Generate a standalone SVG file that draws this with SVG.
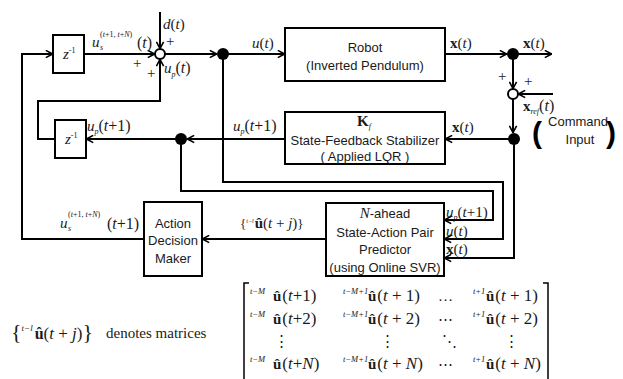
<svg xmlns="http://www.w3.org/2000/svg" width="623" height="379" viewBox="0 0 623 379">
<defs>
<marker id="ah" viewBox="0 0 10 10" refX="9.5" refY="5" markerWidth="9" markerHeight="9" markerUnits="userSpaceOnUse" orient="auto">
<path d="M1.5,1 L9,5 L1.5,9" fill="none" stroke="#000" stroke-width="1.8"/>
</marker>
</defs>
<style>
.bx{fill:#fff;stroke:#000;stroke-width:2}
.ln{fill:none;stroke:#000;stroke-width:1.5}
.ar{fill:none;stroke:#000;stroke-width:2;marker-end:url(#ah)}
.t{font-family:"Liberation Sans",Arial,sans-serif;font-size:13px;text-anchor:middle;fill:#1a1a1a}
.m{font-family:"Liberation Serif","Times New Roman","DejaVu Serif",serif;font-size:15px;fill:#1a1a1a}
.i{font-style:italic}
.b{font-weight:bold}
.s{font-size:8px}
.dot{fill:#000}
.sum{fill:#fff;stroke:#000;stroke-width:2}
</style>
<rect width="623" height="379" fill="#fff"/>

<g id="connectors">
<path class="ar" d="M84,54 H155"/>
<path class="ar" d="M160,12 V49"/>
<path class="ar" d="M55,139 H38 V101 H160 V59"/>
<path class="ar" d="M165,54 H217"/>
<path class="ar" d="M223,54 H285"/>
<path class="ar" d="M445,54 H507"/>
<path class="ar" d="M513,54 H552"/>
<path class="ar" d="M513,54 V89"/>
<path class="ar" d="M553,94 H518"/>
<path class="ar" d="M513,99 V133"/>
<path class="ar" d="M514,139 H445"/>
<path class="ar" d="M285,139 H187"/>
<path class="ar" d="M181,139 H86"/>
<path class="ar" d="M223,54 V182 H503 V239 H444"/>
<path class="ar" d="M181,139 V191 H493 V220 H444"/>
<path class="ar" d="M514,139 V258 H444"/>
<path class="ar" d="M326,239 H202"/>
<path class="ar" d="M144,239 H22 V54 H53"/>
</g>

<g id="sum1"><circle class="sum" cx="160" cy="54" r="5"/></g>
<g id="sum2"><circle class="sum" cx="513" cy="94" r="5"/></g>
<g id="dot1"><circle class="dot" cx="223" cy="54" r="6"/></g>
<g id="dot2"><circle class="dot" cx="513" cy="54" r="6"/></g>
<g id="dot3"><circle class="dot" cx="181" cy="139" r="6"/></g>
<g id="dot4"><circle class="dot" cx="514" cy="139" r="6"/></g>

<g id="delay1">
<rect class="bx" x="53" y="35" width="31" height="38"/>
<text class="m" x="63" y="59"><tspan class="i">z</tspan><tspan class="s" y="53">-1</tspan></text>
</g>
<g id="delay2">
<rect class="bx" x="55" y="120" width="31" height="38"/>
<text class="m" x="65" y="144"><tspan class="i">z</tspan><tspan class="s" y="138">-1</tspan></text>
</g>
<g id="robot">
<rect class="bx" x="285" y="28" width="160" height="53"/>
<text class="t" x="365" y="52">Robot</text>
<text class="t" x="365" y="70">(Inverted Pendulum)</text>
</g>
<g id="stabilizer">
<rect class="bx" x="285" y="112" width="160" height="52"/>
<text class="m" x="357" y="126"><tspan class="b">K</tspan><tspan class="s i" y="129">f</tspan></text>
<text class="t" x="365" y="145">State-Feedback Stabilizer</text>
<text class="t" x="365" y="161">( Applied LQR )</text>
</g>
<g id="predictor">
<rect class="bx" x="326" y="203" width="118" height="73"/>
<text class="t" x="385" y="218"><tspan class="i" style="font-family:'Liberation Serif',serif;font-size:15px">N</tspan>-ahead</text>
<text class="t" x="385" y="237">State-Action Pair</text>
<text class="t" x="385" y="254">Predictor</text>
<text class="t" x="385" y="272">(using Online SVR)</text>
</g>
<g id="action">
<rect class="bx" x="144" y="202" width="58" height="74"/>
<text class="t" x="173" y="228">Action</text>
<text class="t" x="173" y="245">Decision</text>
<text class="t" x="173" y="263">Maker</text>
</g>

<g id="labels">
<text class="m" x="92" y="47"><tspan class="i">u</tspan><tspan class="s" x="100" y="37">(<tspan class="i">t</tspan>+1, <tspan class="i">t</tspan>+<tspan class="i">N</tspan>)</tspan><tspan class="s i" x="100" y="50">s</tspan><tspan x="137" y="48" font-size="16">(<tspan class="i">t</tspan>)</tspan></text>
<text class="m" x="163" y="29" font-size="16"><tspan class="i">d</tspan>(<tspan class="i">t</tspan>)</text>
<text class="m" x="166" y="46">+</text>
<text class="m" x="133" y="68">+</text>
<text class="m" x="147" y="78">+</text>
<text class="m" x="164" y="73"><tspan class="i">u</tspan><tspan class="s i" y="77">p</tspan><tspan y="73" font-size="16">(<tspan class="i">t</tspan>)</tspan></text>
<text class="m" x="252" y="48" font-size="16"><tspan class="i">u</tspan>(<tspan class="i">t</tspan>)</text>
<text class="m" x="450" y="48" font-size="16"><tspan class="b">x</tspan>(<tspan class="i">t</tspan>)</text>
<text class="m" x="523" y="48" font-size="16"><tspan class="b">x</tspan>(<tspan class="i">t</tspan>)</text>
<text class="m" x="498" y="81">+</text>
<text class="m" x="524" y="86">+</text>
<text class="m" x="523" y="111"><tspan class="b">x</tspan><tspan class="s i" y="114" font-size="7">ref</tspan><tspan y="111" font-size="16">(<tspan class="i">t</tspan>)</tspan></text>
<text class="t" x="578" y="126">Command</text>
<text class="t" x="580" y="144">Input</text>
<text x="532" y="143" style="font-family:'Liberation Sans',sans-serif;font-size:30px;font-weight:bold">(</text>
<text x="606" y="143" style="font-family:'Liberation Sans',sans-serif;font-size:30px;font-weight:bold">)</text>
<text class="m" x="452" y="132" font-size="16"><tspan class="b">x</tspan>(<tspan class="i">t</tspan>)</text>
<text class="m" x="233" y="131"><tspan class="i">u</tspan><tspan class="s i" y="134">p</tspan><tspan y="131" font-size="16">(<tspan class="i">t</tspan>+1)</tspan></text>
<text class="m" x="87" y="131"><tspan class="i">u</tspan><tspan class="s i" y="134">p</tspan><tspan y="131" font-size="16">(<tspan class="i">t</tspan>+1)</tspan></text>
<text class="m" x="446" y="217" font-size="14"><tspan class="i">u</tspan><tspan class="s i" y="220">p</tspan><tspan y="217">(<tspan class="i">t</tspan>+1)</tspan></text>
<text class="m" x="446" y="236" font-size="14"><tspan class="i">u</tspan>(<tspan class="i">t</tspan>)</text>
<text class="m" x="446" y="254" font-size="14"><tspan class="b">x</tspan>(<tspan class="i">t</tspan>)</text>
<text class="m" x="60" y="228"><tspan class="i">u</tspan><tspan class="s" x="68" y="217">(<tspan class="i">t</tspan>+1, <tspan class="i">t</tspan>+<tspan class="i">N</tspan>)</tspan><tspan class="s i" x="68" y="231">s</tspan><tspan x="107" y="229" font-size="16">(<tspan class="i">t</tspan>+1)</tspan></text>
<text class="m" x="240" y="228" font-size="11"><tspan font-size="13">{</tspan><tspan class="i" font-size="6" y="223">t−l</tspan><tspan class="b" y="228" dx="1">û</tspan>(<tspan class="i">t</tspan> + <tspan class="i">j</tspan>)<tspan font-size="13">}</tspan></text>
</g>

<g id="legend">
<text class="m" x="11" y="339"><tspan font-size="22">{</tspan><tspan class="i" font-size="9" y="331">t−l</tspan><tspan class="b" font-size="16" y="339" dx="2">û</tspan><tspan font-size="17">(<tspan class="i">t</tspan> + <tspan class="i">j</tspan>)</tspan><tspan font-size="22">}</tspan></text>
<text class="m" x="106" y="338" font-size="19">denotes matrices</text>
<path class="ln" d="M249,283 H244 V379"/>
<path class="ln" d="M543,283 H548 V379"/>
<g class="m">
<text x="250" y="301"><tspan class="i" font-size="8.5" y="294">t−M</tspan><tspan class="b" x="273" y="301">û</tspan><tspan font-size="17" dx="1">(<tspan class="i">t</tspan>+1)</tspan></text>
<text x="343" y="301"><tspan class="i" font-size="8.5" y="294">t−M+1</tspan><tspan class="b" x="368" y="301">û</tspan><tspan font-size="17" dx="1">(<tspan class="i">t</tspan> + 1)</tspan></text>
<text x="438" y="301">…</text>
<text x="473" y="301"><tspan class="i" font-size="8.5" y="294">t+1</tspan><tspan class="b" x="486" y="301">û</tspan><tspan font-size="17" dx="1">(<tspan class="i">t</tspan> + 1)</tspan></text>

<text x="250" y="324"><tspan class="i" font-size="8.5" y="317">t−M</tspan><tspan class="b" x="273" y="324">û</tspan><tspan font-size="17" dx="1">(<tspan class="i">t</tspan>+2)</tspan></text>
<text x="343" y="324"><tspan class="i" font-size="8.5" y="317">t−M+1</tspan><tspan class="b" x="368" y="324">û</tspan><tspan font-size="17" dx="1">(<tspan class="i">t</tspan> + 2)</tspan></text>
<text x="438" y="324">⋯</text>
<text x="473" y="324"><tspan class="i" font-size="8.5" y="317">t+1</tspan><tspan class="b" x="486" y="324">û</tspan><tspan font-size="17" dx="1">(<tspan class="i">t</tspan> + 2)</tspan></text>

<text x="274" y="346">⋮</text>
<text x="380" y="346">⋮</text>
<text x="442" y="346">⋱</text>
<text x="504" y="346">⋮</text>

<text x="250" y="369"><tspan class="i" font-size="8.5" y="362">t−M</tspan><tspan class="b" x="273" y="369">û</tspan><tspan font-size="17" dx="1">(<tspan class="i">t</tspan>+<tspan class="i">N</tspan>)</tspan></text>
<text x="343" y="369"><tspan class="i" font-size="8.5" y="362">t−M+1</tspan><tspan class="b" x="368" y="369">û</tspan><tspan font-size="17" dx="1">(<tspan class="i">t</tspan> + <tspan class="i">N</tspan>)</tspan></text>
<text x="438" y="369">⋯</text>
<text x="473" y="369"><tspan class="i" font-size="8.5" y="362">t+1</tspan><tspan class="b" x="486" y="369">û</tspan><tspan font-size="17" dx="1">(<tspan class="i">t</tspan> + <tspan class="i">N</tspan>)</tspan></text>
</g>
</g>
</svg>
